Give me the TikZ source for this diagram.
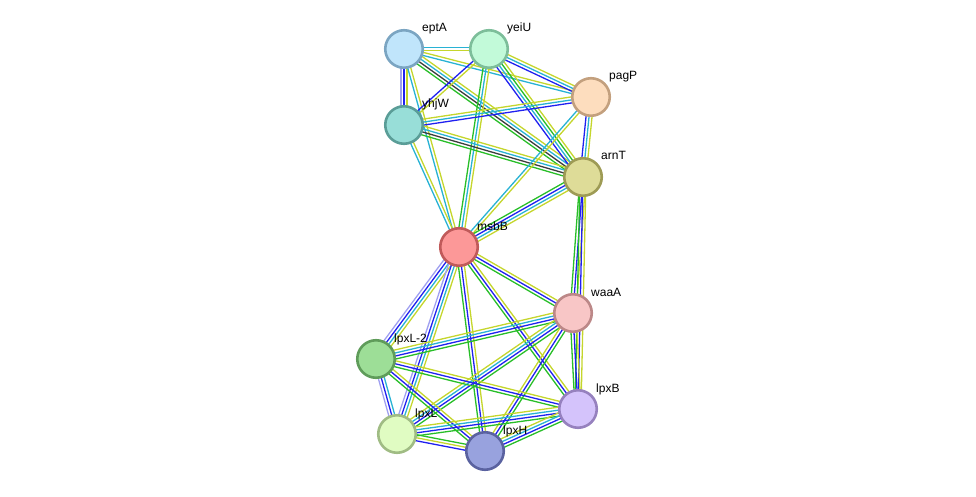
\documentclass[tikz,border=0pt]{standalone}
\usepackage{fontspec}
\setmainfont{Liberation Sans}
\usetikzlibrary{calc,backgrounds}
\definecolor{ctext}{RGB}{197,214,44}
\definecolor{cdb}{RGB}{40,178,212}
\definecolor{cnb}{RGB}{40,190,40}
\definecolor{cco}{RGB}{32,32,240}
\definecolor{cex}{RGB}{60,60,60}
\definecolor{chom}{RGB}{160,160,240}
\definecolor{f1}{RGB}{192,229,251}\definecolor{d1}{RGB}{123,165,194}
\definecolor{f2}{RGB}{194,250,217}\definecolor{d2}{RGB}{125,190,154}
\definecolor{f3}{RGB}{253,221,190}\definecolor{d3}{RGB}{195,160,126}
\definecolor{f4}{RGB}{152,222,216}\definecolor{d4}{RGB}{90,157,151}
\definecolor{f5}{RGB}{222,220,152}\definecolor{d5}{RGB}{158,155,85}
\definecolor{f6}{RGB}{252,152,152}\definecolor{d6}{RGB}{192,90,90}
\definecolor{f7}{RGB}{248,198,198}\definecolor{d7}{RGB}{188,136,136}
\definecolor{f8}{RGB}{157,222,151}\definecolor{d8}{RGB}{95,156,90}
\definecolor{f9}{RGB}{212,195,251}\definecolor{d9}{RGB}{150,129,190}
\definecolor{f10}{RGB}{224,252,194}\definecolor{d10}{RGB}{160,188,132}
\definecolor{f11}{RGB}{152,162,222}\definecolor{d11}{RGB}{90,98,160}
\newcommand{\lnk}[4]{%
  \foreach \c [count=\i] in {#4}{%
    \pgfmathsetmacro\off{(\i-(#3+1)/2)*3}%
    \draw[\c,line width=1.3pt] ($(#1.center)!\off pt!90:(#2.center)$) -- ($(#2.center)!\off pt!-90:(#1.center)$);
  }}
\tikzset{
  prot/.style={circle,draw=d#1,fill=f#1,line width=2.6pt,minimum size=37.5pt,inner sep=0pt},
  lbl/.style={font=\fontsize{12}{14}\selectfont,anchor=base west,inner sep=0pt}
}
\begin{document}
\begin{tikzpicture}[x=1pt,y=-1pt]
\useasboundingbox (0,0) rectangle (976,497);
\node[prot=1] (eptA) at (404,49) {};
\node[prot=2] (yeiU) at (489,49) {};
\node[prot=3] (pagP) at (591,97) {};
\node[prot=4] (yhjW) at (404,125) {};
\node[prot=5] (arnT) at (583,177) {};
\node[prot=6] (msbB) at (459,247) {};
\node[prot=7] (waaA) at (573,313) {};
\node[prot=8] (lpxL2) at (376,359) {};
\node[prot=9] (lpxB) at (578,409) {};
\node[prot=10] (lpxL) at (397,434) {};
\node[prot=11] (lpxH) at (485,451) {};
\foreach \n/\t in {eptA/eptA,yeiU/yeiU,pagP/pagP,yhjW/yhjW,arnT/arnT,msbB/msbB,waaA/waaA,lpxL2/lpxL-2,lpxB/lpxB,lpxL/lpxL,lpxH/lpxH}
  \node[lbl] (l-\n) at ($(\n.center)+(18,-17)$) {\t};
\begin{pgfonlayer}{background}
\lnk{eptA}{yeiU}{2}{ctext,cdb}
\lnk{eptA}{yhjW}{3}{chom,cco,ctext}
\lnk{eptA}{pagP}{2}{cdb,ctext}
\lnk{eptA}{arnT}{4}{cnb,cex,cdb,ctext}
\lnk{eptA}{msbB}{2}{cdb,ctext}
\lnk{yeiU}{yhjW}{2}{cco,ctext}
\lnk{yeiU}{pagP}{3}{cco,cdb,ctext}
\lnk{yeiU}{arnT}{4}{cco,cdb,cnb,ctext}
\lnk{yeiU}{msbB}{3}{cnb,cdb,ctext}
\lnk{yhjW}{pagP}{3}{cco,cdb,ctext}
\lnk{yhjW}{arnT}{4}{cnb,cex,cdb,ctext}
\lnk{yhjW}{msbB}{2}{cdb,ctext}
\lnk{pagP}{arnT}{3}{cco,cdb,ctext}
\lnk{pagP}{msbB}{2}{cdb,ctext}
\lnk{arnT}{msbB}{4}{cnb,cco,cdb,ctext}
\lnk{arnT}{waaA}{3}{cnb,cco,ctext}
\lnk{arnT}{lpxB}{3}{cnb,cco,ctext}
\lnk{msbB}{waaA}{3}{cnb,cco,ctext}
\lnk{msbB}{lpxL2}{4}{chom,cco,cdb,ctext}
\lnk{msbB}{lpxL}{4}{chom,cco,cdb,ctext}
\lnk{msbB}{lpxH}{3}{cnb,cco,ctext}
\lnk{msbB}{lpxB}{3}{cnb,cco,ctext}
\lnk{waaA}{lpxL2}{4}{ctext,cdb,cco,cnb}
\lnk{waaA}{lpxL}{4}{ctext,cdb,cco,cnb}
\lnk{waaA}{lpxH}{3}{ctext,cco,cnb}
\lnk{waaA}{lpxB}{3}{cnb,cco,ctext}
\lnk{lpxL2}{lpxL}{3}{chom,cco,cdb}
\lnk{lpxL2}{lpxH}{3}{cnb,cco,ctext}
\lnk{lpxL2}{lpxB}{3}{cnb,cco,ctext}
\lnk{lpxL}{lpxH}{3}{cco,ctext,cnb}
\lnk{lpxL}{lpxB}{4}{cnb,cco,cdb,ctext}
\lnk{lpxH}{lpxB}{4}{cnb,cco,cdb,ctext}
\end{pgfonlayer}
\end{tikzpicture}
\end{document}
